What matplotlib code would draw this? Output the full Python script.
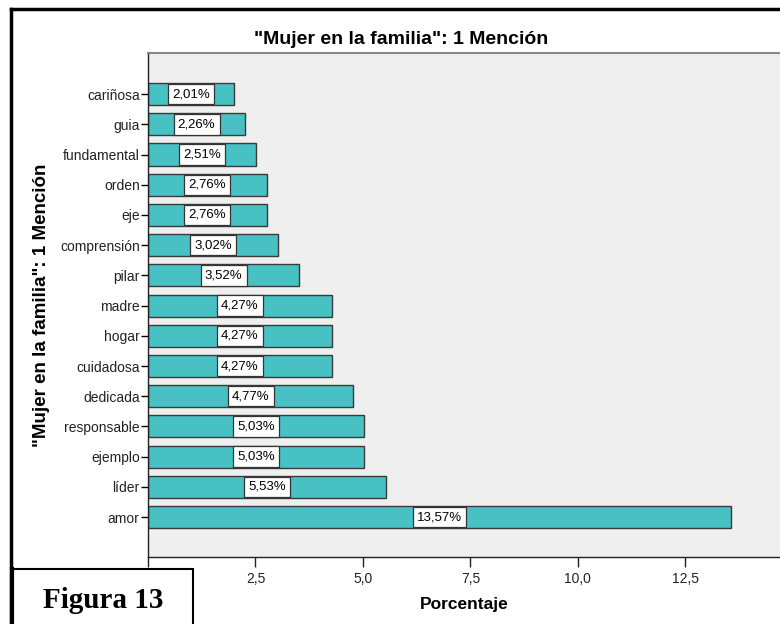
import matplotlib
matplotlib.use("Agg")
import matplotlib.pyplot as plt
from matplotlib.patches import Rectangle
from matplotlib.lines import Line2D
from matplotlib.ticker import FuncFormatter

plt.rcParams['font.family'] = ['Liberation Sans', 'DejaVu Sans']

# data, bottom to top as drawn
categorias = ['amor', 'líder', 'ejemplo', 'responsable', 'dedicada', 'cuidadosa',
              'hogar', 'madre', 'pilar', 'comprensión', 'eje', 'orden',
              'fundamental', 'guia', 'cariñosa']
porcentajes = [13.57, 5.53, 5.03, 5.03, 4.77, 4.27, 4.27, 4.27, 3.52, 3.02,
               2.76, 2.76, 2.51, 2.26, 2.01]
titulo = '"Mujer en la familia": 1 Mención'
xticks = [2.5, 5.0, 7.5, 10.0, 12.5]

W, H = 780, 624
fig = plt.figure(figsize=(7.8, 6.24), dpi=100)
ax = fig.add_axes([148 / W, 1 - 557 / H, (W - 148) / W, (557 - 53) / H])
ax.set_facecolor('#efefef')

pos = list(range(len(categorias)))
ax.barh(pos, porcentajes, height=0.73, color='#48c1c4', edgecolor='#3a3a3a', linewidth=1.0, zorder=2)

# value labels in white boxes, centred on each bar
for p, v in zip(pos, porcentajes):
    ax.text(v / 2, p, ('%.2f%%' % v).replace('.', ','), ha='center', va='center', fontsize=9.5,
            color='black', zorder=3,
            bbox=dict(boxstyle='square,pad=0.32', fc='white', ec='#333333', lw=0.9))

ax.set_xlim(0, 14.7)
ax.set_ylim(-1.32, 15.36)
ax.set_yticks(pos)
ax.set_yticklabels(categorias, fontsize=10, color='#222222')
ax.set_xticks([0] + xticks)
ax.xaxis.set_major_formatter(FuncFormatter(lambda x, _: '' if x == 0 else ('%.1f' % x).replace('.', ',')))
ax.tick_params(axis='x', direction='out', length=7, width=1, labelsize=10, pad=4, colors='#222222')
ax.tick_params(axis='y', direction='out', length=5, width=1, pad=1)

for s in ['left', 'bottom']:
    ax.spines[s].set_color('#222222')
    ax.spines[s].set_linewidth(1.0)
ax.spines['top'].set_color('#888888')
ax.spines['top'].set_linewidth(1.5)
ax.spines['right'].set_visible(False)

ax.set_xlabel('Porcentaje', fontsize=12.5, fontweight='bold')
ax.xaxis.set_label_coords((464 - 148) / (W - 148), -(605 - 557) / (557 - 53))
ax.xaxis.label.set_va('center')
ax.set_ylabel(titulo, fontsize=13.5, fontweight='bold')
ax.yaxis.set_label_coords(-(148 - 42) / (W - 148), 0.5)
ax.yaxis.label.set_va('center')
fig.text(401 / W, 1 - 39 / H, titulo, ha='center', va='center', fontsize=14, fontweight='bold')

# outer frame of the pasted figure
fig.add_artist(Line2D([11 / W, 1], [1 - 9 / H, 1 - 9 / H], color='black', lw=2.5))
fig.add_artist(Line2D([11 / W, 11 / W], [0, 1 - 9 / H], color='black', lw=2.5))

# "Figura 13" box
fig.add_artist(Rectangle((12 / W, -0.01), (193 - 12) / W, (1 - 569 / H) + 0.01,
                         transform=fig.transFigure, fc='white', ec='black', lw=1.5))
fig.add_artist(Line2D([12 / W, 12 / W], [0, 1 - 569 / H], color='black', lw=3))
fig.text(103 / W, 1 - 600 / H, 'Figura 13', ha='center', va='center',
         fontsize=21, fontweight='bold', family=['Liberation Serif', 'DejaVu Serif'])

fig.savefig('out.png', dpi=100)
